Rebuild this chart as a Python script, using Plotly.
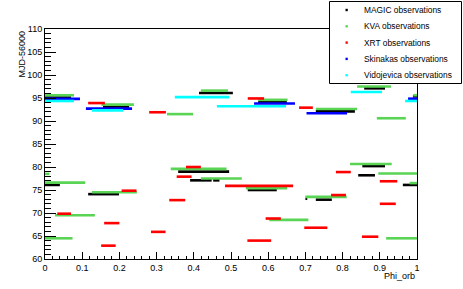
import plotly.graph_objects as go

# ---------------- data (phase start, phase end, MJD-56000) ----------------
magic_start = [0.0, 0.989, 0.156, 0.414, 0.573, 0.728, 0.858, 0.0, 0.116, 0.358, 0.390, 0.452, 0.545, 0.700, 0.728, 0.842, 0.853, 0.962]
magic_end   = [0.070, 1.0, 0.226, 0.505, 0.650, 0.833, 0.914, 0.040, 0.199, 0.495, 0.448, 0.469, 0.623, 0.705, 0.771, 0.887, 0.914, 1.0]
magic_mjd   = [95.1, 95.35, 93.1, 96.1, 94.1, 92.1, 97.1, 76.1, 74.1, 79.0, 77.1, 77.1, 75.0, 73.1, 72.9, 78.2, 80.2, 76.1]

kva_start = [0.0, 0.990, 0.152, 0.328, 0.419, 0.573, 0.728, 0.839, 0.892, 0.0, 0.0, 0.126, 0.027, 0.0, 0.338, 0.419, 0.540, 0.603, 0.700, 0.820, 0.896, 0.980, 0.917]
kva_end   = [0.078, 1.0, 0.239, 0.398, 0.492, 0.652, 0.839, 0.930, 0.970, 0.012, 0.108, 0.247, 0.134, 0.074, 0.488, 0.529, 0.651, 0.708, 0.811, 0.932, 1.0, 1.0, 1.0]
kva_mjd   = [95.6, 95.6, 93.55, 91.5, 96.6, 94.6, 92.6, 97.5, 90.6, 78.5, 76.6, 74.5, 69.5, 64.5, 79.6, 77.5, 75.4, 68.5, 73.5, 80.65, 78.6, 76.5, 64.5]

xrt_start = [0.116, 0.280, 0.545, 0.683, 0.206, 0.033, 0.159, 0.151, 0.285, 0.334, 0.354, 0.379, 0.484, 0.593, 0.544, 0.697, 0.769, 0.782, 0.900, 0.900, 0.852]
xrt_end   = [0.161, 0.325, 0.589, 0.720, 0.246, 0.070, 0.200, 0.190, 0.324, 0.377, 0.394, 0.419, 0.667, 0.634, 0.608, 0.759, 0.809, 0.822, 0.947, 0.943, 0.896]
xrt_mjd   = [93.9, 91.9, 94.9, 92.9, 74.85, 69.85, 67.8, 62.9, 65.9, 72.8, 77.9, 80.0, 75.9, 68.8, 64.0, 66.8, 73.9, 78.9, 76.9, 72.0, 64.85]

skin_start = [0.0, 0.976, 0.110, 0.562, 0.703]
skin_end   = [0.094, 1.0, 0.234, 0.672, 0.812]
skin_mjd   = [94.8, 94.85, 92.7, 93.8, 91.7]

vido_start = [0.0, 0.968, 0.126, 0.349, 0.462, 0.822]
vido_end   = [0.078, 1.0, 0.210, 0.495, 0.648, 0.906]
vido_mjd   = [94.35, 94.35, 92.3, 95.2, 93.2, 96.3]

series_names = ["MAGIC observations", "KVA observations", "XRT observations",
                "Skinakas observations", "Vidojevica observations"]
series_colors = ["#000000", "#59d454", "#ff0000", "#0000ff", "#00ffff"]
series_data = [(magic_start, magic_end, magic_mjd),
               (kva_start, kva_end, kva_mjd),
               (xrt_start, xrt_end, xrt_mjd),
               (skin_start, skin_end, skin_mjd),
               (vido_start, vido_end, vido_mjd)]

x_title = "Phi_orb"
y_title = "MJD-56000"

# ---------------- layout geometry ----------------
W, H = 463, 289
ML, MR, MT, MB = 45, 46, 29, 30
PW, PH = W - ML - MR, H - MT - MB
FONT = "Liberation Sans, Arial, sans-serif"


def px_x(p):
    return (p - ML) / PW


def px_y(p):
    return (H - MB - p) / PH


fig = go.Figure()
for (xs, xe, ys), name, col in zip(series_data, series_names, series_colors):
    X, Y = [], []
    for a, b, c in zip(xs, xe, ys):
        X += [a, b, None]
        Y += [c, c, None]
    fig.add_trace(go.Scatter(x=X, y=Y, mode="lines", name=name,
                             line=dict(color=col, width=2.6),
                             showlegend=False, hoverinfo="skip"))

axis_common = dict(showgrid=False, zeroline=False, showline=True, mirror=True,
                   linecolor="#000000", linewidth=1, ticks="inside",
                   tickcolor="#000000", tickwidth=1,
                   tickfont=dict(family=FONT, size=9, color="#000000"))

fig.update_xaxes(range=[0, 1], dtick=0.1, tick0=0, ticklen=7,
                 minor=dict(dtick=0.02, ticklen=3.5, ticks="inside", tickcolor="#000000"),
                 **axis_common)
fig.update_yaxes(range=[60, 110], dtick=5, tick0=60, ticklen=11,
                 minor=dict(dtick=1, ticklen=5.5, ticks="inside", tickcolor="#000000"),
                 **axis_common)

# axis titles (ROOT style: right / top aligned)
annotations = [
    dict(text=x_title, xref="paper", yref="paper", x=1, y=0, xanchor="right",
         yanchor="middle", yshift=-17, showarrow=False,
         font=dict(family=FONT, size=9, color="#000000")),
    dict(text=y_title, xref="paper", yref="paper", x=0, y=1, xanchor="center",
         yanchor="top", xshift=-24, showarrow=False, textangle=-90,
         font=dict(family=FONT, size=9, color="#000000")),
]

# legend box (drawn manually, ROOT TLegend style)
shapes = [dict(type="rect", xref="paper", yref="paper",
               x0=px_x(329.5), x1=px_x(461.5), y0=px_y(83.5), y1=px_y(1.5),
               fillcolor="#ffffff", line=dict(color="#000000", width=1), layer="above")]
row_y = [10, 26.3, 42.6, 58.9, 75.2]
for name, col, ry in zip(series_names, series_colors, row_y):
    shapes.append(dict(type="rect", xref="paper", yref="paper",
                       x0=px_x(345.5), x1=px_x(347.8), y0=px_y(ry + 1.2), y1=px_y(ry - 1.2),
                       fillcolor=col, line=dict(width=0), layer="above"))
    annotations.append(dict(text=name, xref="paper", yref="paper", x=px_x(362), y=px_y(ry),
                            xanchor="left", yanchor="middle", showarrow=False,
                            font=dict(family=FONT, size=8.4, color="#000000")))

fig.update_layout(width=W, height=H, margin=dict(l=ML, r=MR, t=MT, b=MB),
                  paper_bgcolor="#ffffff", plot_bgcolor="#ffffff",
                  shapes=shapes, annotations=annotations, showlegend=False,
                  font=dict(family=FONT, size=9, color="#000000"))

fig.write_html("out.html", config={"displayModeBar": False},
               post_script="document.body.style.margin='0';document.body.style.overflow='hidden';")
